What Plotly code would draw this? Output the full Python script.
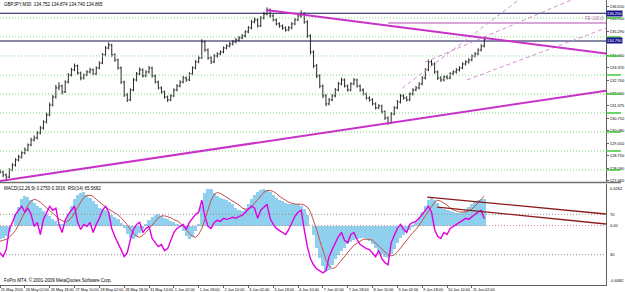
import numpy as np
import plotly.graph_objects as go

# ---------------- data ----------------
hours = np.arange(157) * 2  # trading hours since 25 May 2010 10:00, one bar per 2h

close = [127.90, 127.74, 127.63, 128.00, 128.26, 128.53, 128.68, 128.90, 129.05, 129.32,
         129.58, 129.69, 129.95, 130.21, 130.53, 130.90, 131.42, 131.84, 132.32, 132.42,
         132.11, 132.63, 133.00, 133.27, 133.48, 133.11, 132.84, 133.00, 133.16, 133.27,
         133.06, 133.37, 133.63, 134.06, 134.42, 134.58, 134.06, 133.79, 133.37, 132.63,
         131.95, 131.69, 132.21, 132.74, 133.06, 133.27, 132.95, 133.16, 133.37, 132.95,
         132.63, 132.32, 132.11, 131.84, 131.69, 131.90, 132.21, 132.42, 132.63, 132.84,
         132.74, 133.06, 133.37, 133.69, 133.90, 134.74, 134.32, 133.90, 133.69, 134.00,
         134.11, 134.21, 134.42, 134.53, 134.63, 134.74, 134.84, 134.95, 135.06, 135.27,
         135.48, 135.79, 135.90, 135.58, 136.00, 136.21, 136.42, 136.11, 135.90, 135.69,
         135.58, 135.48, 135.37, 135.48, 135.69, 135.90, 136.11, 136.21, 135.79, 135.06,
         134.21, 133.48, 132.95, 132.42, 131.90, 131.48, 131.69, 131.90, 132.21, 132.53,
         132.74, 132.42, 132.21, 132.53, 132.74, 132.42, 132.21, 132.00, 131.79, 131.69,
         131.48, 131.27, 131.37, 131.06, 130.74, 130.48, 130.95, 131.27, 131.58, 131.90,
         131.79, 131.69, 132.00, 132.21, 132.32, 132.53, 132.84, 133.27, 133.69, 133.58,
         133.16, 132.84, 132.74, 132.90, 132.84, 133.06, 133.16, 133.27, 133.37, 133.58,
         133.69, 133.79, 134.00, 134.11, 134.32, 134.53, 134.86]

high = [128.05, 127.96, 127.82, 128.10, 128.36, 128.62, 128.80, 129.00, 129.18, 129.40,
        129.70, 129.82, 130.05, 130.32, 130.62, 131.02, 131.55, 131.95, 132.48, 132.62,
        132.50, 132.72, 133.10, 133.38, 133.60, 133.55, 133.18, 133.08, 133.25, 133.38,
        133.34, 133.45, 133.72, 134.15, 134.52, 134.72, 134.64, 134.14, 133.86, 133.45,
        132.70, 132.05, 132.30, 132.84, 133.16, 133.40, 133.35, 133.25, 133.48, 133.44,
        133.02, 132.70, 132.40, 132.18, 131.92, 131.98, 132.30, 132.52, 132.72, 132.95,
        132.92, 133.15, 133.46, 133.78, 134.02, 134.88, 134.82, 134.40, 133.98, 134.10,
        134.20, 134.30, 134.50, 134.62, 134.74, 134.84, 134.95, 135.05, 135.16, 135.36,
        135.58, 135.90, 136.02, 135.98, 136.10, 136.32, 136.56, 136.50, 136.20, 135.98,
        135.78, 135.66, 135.56, 135.58, 135.78, 136.00, 136.22, 136.40, 136.30, 135.88,
        135.14, 134.30, 133.58, 133.04, 132.50, 132.00, 131.80, 132.00, 132.32, 132.64,
        132.86, 132.82, 132.50, 132.62, 132.84, 132.80, 132.50, 132.30, 132.08, 131.88,
        131.78, 131.56, 131.46, 131.44, 131.14, 130.82, 131.05, 131.36, 131.68, 132.00,
        131.98, 131.88, 132.08, 132.30, 132.42, 132.62, 132.94, 133.36, 133.82, 133.80,
        133.66, 133.24, 132.94, 132.98, 133.00, 133.15, 133.25, 133.36, 133.46, 133.66,
        133.78, 133.88, 134.08, 134.20, 134.40, 134.62, 134.90]

low = [127.80, 127.62, 127.50, 127.58, 127.93, 128.18, 128.45, 128.60, 128.82, 128.98,
       129.25, 129.50, 129.60, 129.88, 130.12, 130.45, 130.82, 131.35, 131.76, 132.20,
       131.98, 132.05, 132.55, 132.92, 133.20, 133.02, 132.72, 132.76, 132.94, 133.08,
       132.98, 132.99, 133.30, 133.57, 133.98, 134.35, 133.95, 133.70, 133.28, 132.52,
       131.85, 131.58, 131.62, 132.14, 132.66, 132.98, 132.86, 132.88, 133.08, 132.86,
       132.55, 132.24, 132.02, 131.75, 131.58, 131.62, 131.84, 132.14, 132.35, 132.56,
       132.64, 132.68, 132.98, 133.30, 133.62, 133.84, 134.22, 133.80, 133.58, 133.62,
       133.92, 134.04, 134.14, 134.35, 134.45, 134.55, 134.66, 134.76, 134.88, 134.98,
       135.20, 135.40, 135.72, 135.50, 135.52, 135.92, 136.14, 136.02, 135.82, 135.60,
       135.48, 135.38, 135.28, 135.30, 135.40, 135.62, 135.84, 136.02, 135.70, 134.95,
       134.08, 133.36, 132.84, 132.30, 131.78, 131.36, 131.40, 131.62, 131.82, 132.14,
       132.45, 132.34, 132.12, 132.14, 132.46, 132.34, 132.12, 131.92, 131.70, 131.60,
       131.40, 131.18, 131.20, 130.96, 130.64, 130.38, 130.42, 130.88, 131.20, 131.50,
       131.70, 131.60, 131.62, 131.92, 132.14, 132.24, 132.46, 132.76, 133.20, 133.48,
       133.06, 132.74, 132.64, 132.66, 132.76, 132.78, 132.98, 133.08, 133.18, 133.30,
       133.50, 133.60, 133.72, 133.92, 134.04, 134.24, 134.45]

first_open = 127.95
open_ = [first_open] + close[:-1]

macd = [-0.14, -0.13, -0.11, -0.07, 0.00, 0.12, 0.19, 0.27, 0.30, 0.29,
        0.26, 0.23, 0.20, 0.18, 0.15, 0.12, 0.10, 0.07, 0.05, 0.02,
        0.02, 0.05, 0.12, 0.20, 0.27, 0.31, 0.33, 0.34, 0.31, 0.28,
        0.25, 0.22, 0.18, 0.17, 0.16, 0.14, 0.11, 0.09, 0.07, 0.03,
        -0.02, -0.09, -0.13, -0.14, -0.12, -0.08, -0.03, 0.02, 0.06, 0.09,
        0.11, 0.12, 0.10, 0.08, 0.07, 0.05, 0.04, 0.02, -0.01, -0.06,
        -0.11, -0.14, -0.12, -0.06, 0.02, 0.20, 0.33, 0.38, 0.37, 0.33,
        0.30, 0.28, 0.27, 0.26, 0.24, 0.22, 0.18, 0.16, 0.15, 0.17,
        0.22, 0.27, 0.31, 0.34, 0.36, 0.37, 0.36, 0.34, 0.31, 0.28,
        0.26, 0.25, 0.23, 0.22, 0.22, 0.22, 0.22, 0.20, 0.17, 0.11,
        0.00, -0.10, -0.23, -0.33, -0.41, -0.46, -0.45, -0.40, -0.34, -0.30,
        -0.26, -0.23, -0.19, -0.17, -0.15, -0.14, -0.13, -0.13, -0.14, -0.16,
        -0.19, -0.23, -0.26, -0.29, -0.32, -0.33, -0.29, -0.24, -0.18, -0.13,
        -0.10, -0.07, -0.04, -0.01, 0.04, 0.09, 0.14, 0.20, 0.26, 0.28,
        0.26, 0.23, 0.19, 0.17, 0.16, 0.15, 0.14, 0.13, 0.13, 0.14,
        0.16, 0.19, 0.22, 0.24, 0.26, 0.27, 0.275]

signal = [-0.16, -0.15, -0.14, -0.12, -0.09, -0.05, 0.01, 0.08, 0.15, 0.21,
          0.25, 0.27, 0.26, 0.24, 0.21, 0.18, 0.15, 0.12, 0.10, 0.07,
          0.05, 0.04, 0.05, 0.08, 0.13, 0.19, 0.24, 0.29, 0.31, 0.31,
          0.30, 0.27, 0.24, 0.21, 0.19, 0.17, 0.15, 0.13, 0.11, 0.08,
          0.05, 0.01, -0.04, -0.08, -0.11, -0.12, -0.10, -0.07, -0.03, 0.01,
          0.05, 0.08, 0.10, 0.10, 0.09, 0.08, 0.06, 0.05, 0.03, 0.00,
          -0.04, -0.08, -0.11, -0.12, -0.09, -0.03, 0.07, 0.17, 0.26, 0.32,
          0.34, 0.33, 0.31, 0.29, 0.27, 0.25, 0.23, 0.21, 0.18, 0.17,
          0.17, 0.19, 0.23, 0.27, 0.31, 0.34, 0.36, 0.36, 0.35, 0.33,
          0.30, 0.28, 0.26, 0.24, 0.23, 0.22, 0.22, 0.22, 0.21, 0.19,
          0.14, 0.06, -0.04, -0.15, -0.26, -0.35, -0.41, -0.44, -0.43, -0.39,
          -0.35, -0.31, -0.27, -0.23, -0.20, -0.18, -0.16, -0.14, -0.14, -0.14,
          -0.15, -0.18, -0.21, -0.24, -0.27, -0.30, -0.31, -0.30, -0.27, -0.23,
          -0.18, -0.14, -0.10, -0.07, -0.04, 0.00, 0.05, 0.10, 0.15, 0.20,
          0.24, 0.26, 0.25, 0.23, 0.21, 0.18, 0.16, 0.15, 0.14, 0.14,
          0.14, 0.15, 0.17, 0.20, 0.23, 0.27, 0.3016]

rsi = [32, 28, 35, 55, 62, 70, 74, 78, 72, 76,
       70, 58, 62, 50, 65, 72, 78, 74, 76, 60,
       52, 64, 70, 74, 78, 62, 55, 60, 58, 62,
       52, 60, 66, 74, 78, 72, 56, 48, 42, 35,
       28, 32, 45, 55, 60, 62, 52, 56, 58, 46,
       42, 38, 40, 34, 36, 45, 52, 56, 58, 60,
       55, 62, 66, 70, 72, 84, 68, 58, 56, 62,
       64, 63, 66, 65, 66, 67, 66, 68, 69, 72,
       74, 78, 76, 66, 74, 77, 80, 66, 60, 56,
       54, 52, 50, 55, 62, 68, 72, 74, 55, 38,
       26, 20, 16, 14, 12, 14, 28, 35, 42, 48,
       52, 44, 42, 50, 52, 45, 40, 38, 36, 35,
       32, 28, 34, 26, 22, 20, 42, 50, 56, 60,
       55, 52, 60, 62, 63, 66, 70, 74, 78, 72,
       55, 48, 46, 52, 50, 56, 58, 60, 62, 64,
       66, 65, 68, 70, 72, 74, 65.57]

time_tick_hours = [0, 16, 32, 48, 64, 80, 96, 112, 128, 144, 160, 176, 192, 208, 224, 240, 256, 272, 288, 304]
time_labels = ["25 May 2010", "26 May 02:00", "26 May 18:00", "27 May 10:00", "28 May 02:00",
               "28 May 18:00", "31 May 10:00", "1 Jun 02:00", "1 Jun 18:00", "2 Jun 10:00",
               "3 Jun 02:00", "3 Jun 18:00", "4 Jun 10:00", "7 Jun 02:00", "7 Jun 18:00",
               "8 Jun 10:00", "9 Jun 02:00", "9 Jun 18:00", "10 Jun 10:00", "11 Jun 02:00"]
price_ticks = [127.46, 128.09, 128.75, 129.41, 130.08, 130.71, 131.375, 132.04, 132.70,
               133.37, 134.00, 135.29, 135.95, 136.61]

green_levels = [128, 129, 130, 131, 132, 133, 134, 135, 136]
navy_levels = [136.25, 134.79]
fe_hours = [250, 390.4]
fe_prices = [135.74, 135.74]
trend_down_h = [171.5, 390.4]
trend_down_p = [136.42, 134.13]
trend_up_h = [0, 390.4]
trend_up_p = [127.42, 132.17]
dashed_lines = [([259.2, 334.1], [132.31, 136.947]),
                ([273.9, 368.0], [133.68, 136.947]),
                ([300.8, 390.4], [132.74, 135.47])]
ind_lines = [([275.2, 390.4], [87.1, 70.3]),
             ([281.6, 390.4], [77.2, 60.4])]
rsi_levels = [70, 30]

X_RANGE = [0, 390.4]
P_RANGE = [127.368, 136.947]
M_RANGE = [-0.6082, 0.4262]
FONT = "Liberation Sans"

fig = go.Figure()

# main window
for lv in green_levels:
    fig.add_trace(go.Scatter(x=X_RANGE, y=[lv, lv], mode="lines", xaxis="x", yaxis="y",
                             line=dict(color="#7ad87a", width=1, dash="1px,2px"), hoverinfo="skip"))
for lv in navy_levels:
    fig.add_trace(go.Scatter(x=X_RANGE, y=[lv, lv], mode="lines", xaxis="x", yaxis="y",
                             line=dict(color="#101050", width=1.2), hoverinfo="skip"))
fig.add_trace(go.Scatter(x=fe_hours, y=fe_prices, mode="lines", xaxis="x", yaxis="y",
                         line=dict(color="#d9a6d9", width=2), hoverinfo="skip"))
for hx, py in dashed_lines:
    fig.add_trace(go.Scatter(x=hx, y=py, mode="lines", xaxis="x", yaxis="y",
                             line=dict(color="#d58fd5", width=1, dash="4px,3px"), hoverinfo="skip"))
fig.add_trace(go.Scatter(x=trend_down_h, y=trend_down_p, mode="lines", xaxis="x", yaxis="y",
                         line=dict(color="#c832c8", width=2), hoverinfo="skip"))
fig.add_trace(go.Scatter(x=trend_up_h, y=trend_up_p, mode="lines", xaxis="x", yaxis="y",
                         line=dict(color="#c832c8", width=2), hoverinfo="skip"))
fig.add_trace(go.Ohlc(x=hours, open=open_, high=high, low=low, close=close,
                      xaxis="x", yaxis="y", tickwidth=0.4,
                      increasing=dict(line=dict(color="#2a2a2a", width=1)),
                      decreasing=dict(line=dict(color="#2a2a2a", width=1)),
                      hoverinfo="skip"))

# indicator window
fig.add_trace(go.Bar(x=hours, y=macd, xaxis="x2", yaxis="y2", width=2,
                     marker=dict(color="#8fd0ee", line=dict(width=0)), hoverinfo="skip"))
fig.add_trace(go.Scatter(x=X_RANGE, y=[0, 0], mode="lines", xaxis="x2", yaxis="y2",
                         line=dict(color="#d08a8a", width=1, dash="1px,2px"), hoverinfo="skip"))
for lv in rsi_levels:
    fig.add_trace(go.Scatter(x=X_RANGE, y=[lv, lv], mode="lines", xaxis="x2", yaxis="y3",
                             line=dict(color="#909090", width=1, dash="1px,2px"), hoverinfo="skip"))
fig.add_trace(go.Scatter(x=hours, y=signal, mode="lines", xaxis="x2", yaxis="y2",
                         line=dict(color="#c0504d", width=1), hoverinfo="skip"))
fig.add_trace(go.Scatter(x=hours, y=rsi, mode="lines", xaxis="x2", yaxis="y3",
                         line=dict(color="#e000e0", width=1.4), hoverinfo="skip"))
for hx, ry in ind_lines:
    fig.add_trace(go.Scatter(x=hx, y=ry, mode="lines", xaxis="x2", yaxis="y3",
                             line=dict(color="#8b1a1a", width=1.3), hoverinfo="skip"))

sep = (285 - 182.5) / 285
fig.update_layout(
    width=625, height=292,
    margin=dict(l=0, r=15, t=0, b=7),
    paper_bgcolor="white", plot_bgcolor="white",
    showlegend=False, bargap=0,
    font=dict(family=FONT, size=5, color="black"),
    xaxis=dict(domain=[0, 1], anchor="y", range=X_RANGE, showticklabels=False,
               showgrid=False, zeroline=False, ticks="", rangeslider=dict(visible=False)),
    xaxis2=dict(domain=[0, 1], anchor="y2", range=X_RANGE, matches="x",
                tickvals=time_tick_hours, ticktext=time_labels, tickangle=0,
                ticklabelposition="outside right", ticks="outside", ticklen=2,
                tickcolor="#606060", showline=True, linecolor="#606060", linewidth=1,
                showgrid=False, zeroline=False, tickfont=dict(size=3.8, family=FONT)),
    yaxis=dict(domain=[0.3614, 1], anchor="x", range=P_RANGE, side="right",
               tickvals=price_ticks, ticktext=[f"{v:.3f}" for v in price_ticks],
               ticks="outside", ticklen=2, tickcolor="#606060",
               showline=True, linecolor="#606060", linewidth=1,
               showgrid=False, zeroline=False, tickfont=dict(size=4, family=FONT)),
    yaxis2=dict(domain=[0, 0.3544], anchor="x2", range=M_RANGE, side="right",
                showticklabels=False, ticks="", showline=True, linecolor="#606060",
                linewidth=1, showgrid=False, zeroline=False),
    yaxis3=dict(domain=[0, 0.3544], anchor="x2", overlaying="y2", range=[0, 100],
                side="right", showticklabels=False, ticks="", showgrid=False,
                zeroline=False, showline=False),
)

# window separator
fig.add_shape(type="line", xref="paper", yref="paper", x0=0, x1=625 / 610, y0=sep, y1=sep,
              line=dict(color="#707070", width=1.5))
# green level markers on price scale
for lv in green_levels:
    fig.add_shape(type="line", xref="paper", yref="y", x0=1.0, x1=625 / 610, y0=lv, y1=lv,
                  line=dict(color="#3cc83c", width=1.5))

ann = []
ann.append(dict(text="GBPJPY,M30  134.752 134.874 134.740 134.865", xref="paper", yref="paper",
                x=0.004, y=1.0, xanchor="left", yanchor="top", showarrow=False,
                font=dict(size=4.5, family=FONT)))
ann.append(dict(text="MACD(12,26,9) 0.2750 0.3016  RSI(14) 65.5682", xref="paper", yref="paper",
                x=0.004, y=0.3544, xanchor="left", yanchor="top", showarrow=False,
                font=dict(size=4.5, family=FONT)))
ann.append(dict(text="FxPro MT4, © 2001-2009 MetaQuotes Software Corp.", xref="paper", yref="paper",
                x=0.004, y=0.0, xanchor="left", yanchor="bottom", showarrow=False,
                font=dict(size=4.5, family=FONT)))
ann.append(dict(text="FE 100.0", xref="x", yref="y", x=fe_hours[1], y=fe_prices[1],
                xanchor="right", yanchor="bottom", showarrow=False,
                font=dict(size=4.5, family=FONT, color="#b070b0")))
for lv in navy_levels:
    ann.append(dict(text=f"{lv:.3f}", xref="paper", yref="y", x=1.0, y=lv, xanchor="left",
                    yanchor="middle", showarrow=False, bgcolor="#14148c",
                    font=dict(size=4, family=FONT, color="white"), borderpad=0))
# indicator scale labels
ind_labels = [("0.4262", "y2", M_RANGE[1], "top"), ("70", "y3", 70, "middle"),
              ("0.00", "y2", 0, "middle"), ("30", "y3", 30, "middle"),
              ("-0.6082", "y2", M_RANGE[0], "bottom")]
for txt, yr, yv, ya in ind_labels:
    ann.append(dict(text=txt, xref="paper", yref=yr, x=1.0, y=yv, xanchor="left",
                    yanchor=ya, xshift=2, showarrow=False, font=dict(size=4, family=FONT)))
fig.update_layout(annotations=ann)

fig.write_html("out.html")
